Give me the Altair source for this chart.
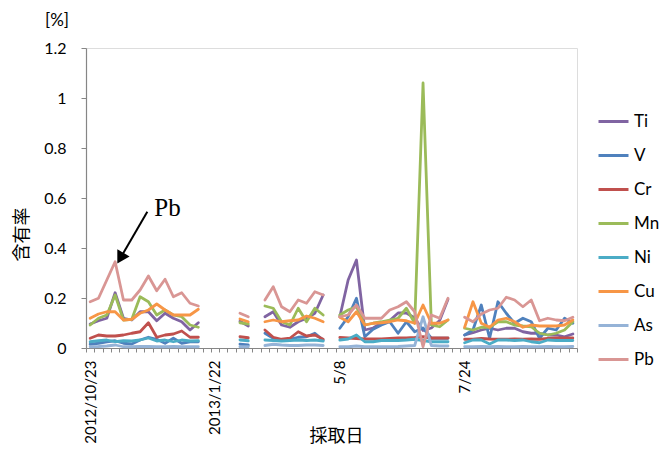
import altair as alt
import pandas as pd

# ---------------- data ----------------
elements = ["Ti", "V", "Cr", "Mn", "Ni", "Cu", "As", "Pb"]
colors = ["#8064A2", "#4F81BD", "#C0504D", "#9BBB59", "#4BACC6", "#F79646", "#95B3D7", "#D99694"]

n_categories = 59
label_index = [0, 15, 30, 45]
label_text = ["2012/10/23", "2013/1/22", "5/8", "7/24"]

sample_index = (list(range(0, 14)) + [18, 19] + list(range(21, 29))
                + list(range(30, 44)) + list(range(45, 59)))

ti = [0.096, 0.109, 0.119, 0.221, 0.119, 0.112, 0.145, 0.145, 0.109, 0.139, 0.119, 0.105, 0.072, 0.101,
      0.107, 0.088,
      0.125, 0.145, 0.092, 0.083, 0.105, 0.119, 0.139, 0.212,
      0.125, 0.272, 0.352, 0.072, 0.080, 0.100, 0.110, 0.140, 0.140, 0.120, 0.070, 0.080, 0.110, 0.195,
      0.052, 0.061, 0.072, 0.079, 0.072, 0.079, 0.079, 0.065, 0.059, 0.059, 0.052, 0.052, 0.045, 0.056]
v = [0.015, 0.019, 0.025, 0.029, 0.019, 0.016, 0.032, 0.043, 0.035, 0.019, 0.039, 0.019, 0.025, 0.025,
     0.015, 0.012,
     0.059, 0.039, 0.032, 0.035, 0.043, 0.045, 0.059, 0.032,
     0.079, 0.125, 0.199, 0.045, 0.075, 0.092, 0.105, 0.059, 0.105, 0.065, 0.080, 0.039, 0.039, 0.039,
     0.052, 0.072, 0.172, 0.039, 0.185, 0.139, 0.099, 0.119, 0.105, 0.039, 0.079, 0.072, 0.119, 0.099]
cr = [0.039, 0.052, 0.048, 0.048, 0.052, 0.059, 0.065, 0.101, 0.043, 0.052, 0.056, 0.068, 0.043, 0.043,
      0.045, 0.041,
      0.072, 0.043, 0.035, 0.039, 0.065, 0.048, 0.052, 0.035,
      0.042, 0.040, 0.038, 0.036, 0.036, 0.036, 0.038, 0.040, 0.040, 0.042, 0.045, 0.040, 0.040, 0.040,
      0.035, 0.035, 0.038, 0.036, 0.035, 0.035, 0.036, 0.035, 0.036, 0.035, 0.038, 0.040, 0.040, 0.040]
mn = [0.092, 0.119, 0.132, 0.212, 0.112, 0.115, 0.205, 0.185, 0.132, 0.152, 0.132, 0.125, 0.092, 0.083,
      0.101, 0.096,
      0.168, 0.159, 0.105, 0.092, 0.159, 0.105, 0.159, 0.132,
      0.132, 0.152, 0.165, 0.092, 0.099, 0.105, 0.112, 0.119, 0.159, 0.099, 1.060, 0.092, 0.085, 0.112,
      0.079, 0.072, 0.083, 0.083, 0.105, 0.105, 0.092, 0.088, 0.085, 0.059, 0.052, 0.059, 0.072, 0.105]
ni = [0.025, 0.029, 0.032, 0.025, 0.029, 0.028, 0.032, 0.040, 0.028, 0.032, 0.025, 0.032, 0.028, 0.029,
      0.032, 0.029,
      0.032, 0.030, 0.028, 0.030, 0.032, 0.030, 0.032, 0.028,
      0.032, 0.036, 0.052, 0.025, 0.025, 0.030, 0.030, 0.030, 0.032, 0.035, 0.030, 0.025, 0.025, 0.025,
      0.021, 0.032, 0.032, 0.016, 0.032, 0.032, 0.030, 0.032, 0.025, 0.021, 0.032, 0.030, 0.030, 0.030]
cu = [0.119, 0.136, 0.145, 0.145, 0.112, 0.115, 0.139, 0.152, 0.176, 0.152, 0.132, 0.132, 0.132, 0.155,
      0.116, 0.105,
      0.105, 0.112, 0.105, 0.109, 0.112, 0.128, 0.119, 0.105,
      0.123, 0.105, 0.145, 0.092, 0.099, 0.101, 0.105, 0.112, 0.109, 0.099, 0.172, 0.099, 0.099, 0.112,
      0.083, 0.185, 0.099, 0.083, 0.112, 0.119, 0.105, 0.083, 0.092, 0.088, 0.088, 0.088, 0.092, 0.112]
as_ = [0.005, 0.006, 0.008, 0.012, 0.005, 0.005, 0.006, 0.006, 0.005, 0.005, 0.006, 0.005, 0.005, 0.005,
       0.005, 0.005,
       0.010, 0.015, 0.012, 0.010, 0.010, 0.012, 0.012, 0.010,
       0.005, 0.005, 0.008, 0.005, 0.005, 0.005, 0.005, 0.006, 0.008, 0.010, 0.125, 0.010, 0.008, 0.008,
       0.005, 0.005, 0.006, 0.005, 0.006, 0.005, 0.005, 0.006, 0.005, 0.005, 0.006, 0.005, 0.005, 0.006]
pb = [0.185, 0.199, 0.272, 0.345, 0.192, 0.192, 0.232, 0.288, 0.229, 0.275, 0.205, 0.221, 0.179, 0.168,
      0.139, 0.125,
      0.192, 0.245, 0.165, 0.145, 0.192, 0.179, 0.225, 0.212,
      0.125, 0.132, 0.172, 0.119, 0.119, 0.119, 0.152, 0.165, 0.185, 0.145, 0.005, 0.132, 0.119, 0.199,
      0.123, 0.105, 0.136, 0.152, 0.159, 0.203, 0.192, 0.165, 0.192, 0.109, 0.119, 0.112, 0.109, 0.123]

series_values = [ti, v, cr, mn, ni, cu, as_, pb]

y_ticks = [0, 0.2, 0.4, 0.6, 0.8, 1.0, 1.2]

# ---------------- build table ----------------
seg_of = {}
seg = 0
prev = None
for i in sample_index:
    if prev is not None and i != prev + 1:
        seg += 1
    seg_of[i] = seg
    prev = i

rows = []
for e, vals in zip(elements, series_values):
    for i, val in zip(sample_index, vals):
        rows.append({"element": e, "idx": i, "value": val, "seg": seg_of[i],
                     "order": elements.index(e)})
df = pd.DataFrame(rows)

label_expr = ""
for i, t in zip(label_index, label_text):
    label_expr += f"datum.value == {i} ? '{t}' : "
label_expr += "''"

FONT = "Lato"
GRAY = "#868686"

lines = alt.Chart(df).mark_line(strokeWidth=2.8, strokeJoin="round", strokeCap="round").encode(
    x=alt.X("idx:O",
            scale=alt.Scale(type="band", domain=list(range(n_categories)), paddingInner=0, paddingOuter=0),
            bandPosition=0.5,
            title="採取日",
            axis=alt.Axis(tickBand="extent", labelExpr=label_expr, labelOverlap=False,
                          labelAngle=270, labelAlign="right", labelBaseline="middle",
                          labelPadding=8, labelFontSize=15, labelFont=FONT, labelColor="#000000",
                          tickSize=4, tickColor=GRAY, domainColor=GRAY, domainWidth=1.2,
                          titleFont="Noto Sans CJK JP", titleFontSize=18, titleFontWeight="normal",
                          titleX=250, titleY=88, titleAlign="center", titleBaseline="middle",
                          titleColor="#000000")),
    y=alt.Y("value:Q", scale=alt.Scale(domain=[0, 1.2], nice=False),
            title="含有率",
            axis=alt.Axis(values=y_ticks, format=".1~f", grid=False,
                          tickSize=5, tickColor=GRAY, domainColor=GRAY, domainWidth=1.2,
                          labelPadding=15, labelFontSize=16, labelFont=FONT, labelColor="#000000",
                          titleFont="Noto Sans CJK JP", titleFontSize=18, titleFontWeight="normal",
                          titleAngle=270, titleX=-64, titleY=186, titleAlign="center",
                          titleBaseline="middle", titleColor="#000000")),
    color=alt.Color("element:N", scale=alt.Scale(domain=elements, range=colors),
                    legend=alt.Legend(title=None, orient="none", legendX=511, legendY=57,
                                      symbolType="stroke", symbolSize=900, symbolStrokeWidth=3,
                                      labelFont=FONT, labelFontSize=17, labelColor="#000000",
                                      labelOffset=4, rowPadding=9, padding=0)),
    detail="seg:N",
    order="order:Q",
)

# annotation (pixel positions relative to plot area)
ann_df = pd.DataFrame({"t": ["Pb"]})
arrow_line = alt.Chart(ann_df).mark_rule(color="black", strokeWidth=2).encode(
    x=alt.value(61.3), y=alt.value(163.7), x2=alt.value(36.5), y2=alt.value(206.5))
arrow_head = alt.Chart(ann_df).mark_point(shape="triangle", filled=True, size=200, angle=210,
                                          color="black", opacity=1).encode(
    x=alt.value(35.4), y=alt.value(208.4))
pb_text = alt.Chart(ann_df).mark_text(font="Liberation Serif", fontSize=25, color="black",
                                      align="center", baseline="middle").encode(
    text="t:N", x=alt.value(81.5), y=alt.value(160))
unit_df = pd.DataFrame({"t": ["[%]"]})
unit_text = alt.Chart(unit_df).mark_text(font=FONT, fontSize=17, color="black",
                                         align="center", baseline="middle").encode(
    text="t:N", x=alt.value(-29), y=alt.value(-27))

chart = alt.layer(lines, arrow_line, arrow_head, pb_text, unit_text).properties(
    width=491, height=300,
    autosize=alt.AutoSizeParams(type="none"),
    padding={"left": 78, "top": 40, "right": 85, "bottom": 100},
).configure_view(stroke=None).configure(background="white")

chart.save("out.html", embed_options={"renderer": "svg", "actions": False})
